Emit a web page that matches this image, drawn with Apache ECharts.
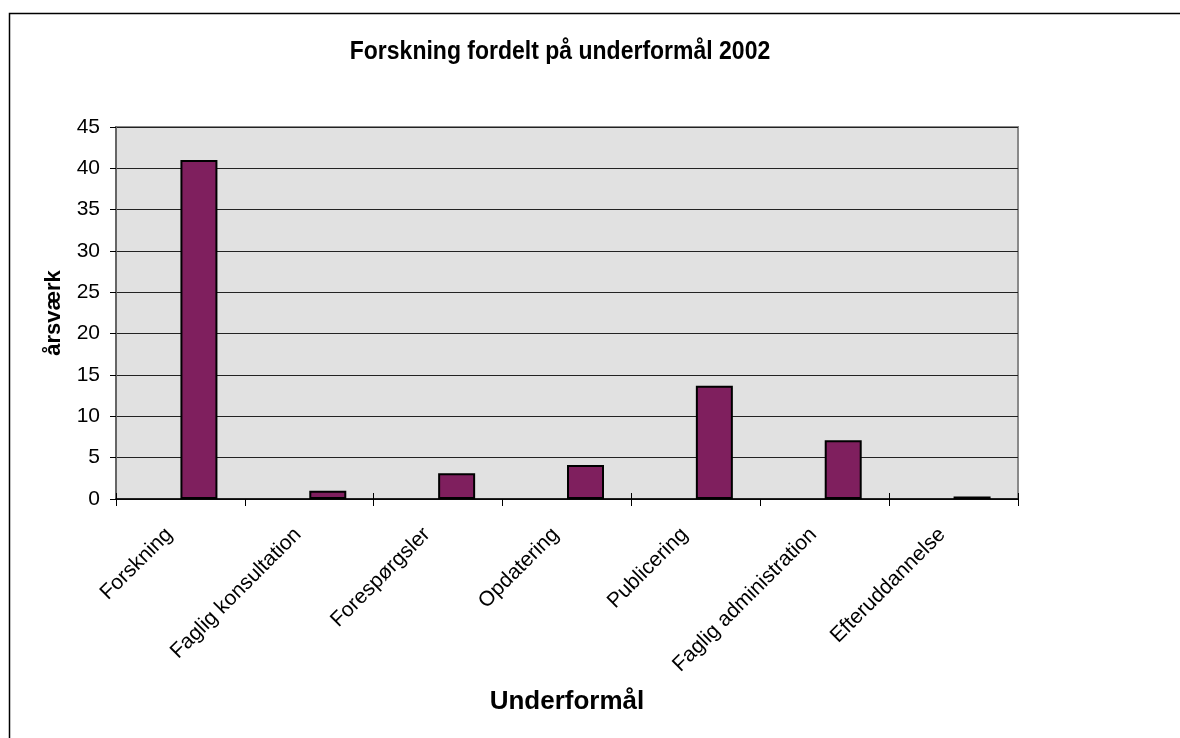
<!DOCTYPE html>
<html>
<head>
<meta charset="utf-8">
<script src="https://cdn.jsdelivr.net/npm/echarts@6/dist/echarts.min.js"></script>
<style>
html, body { margin: 0; padding: 0; background: #fff; }
#chart { width: 1180px; height: 738px; }
</style>
</head>
<body>
<div id="chart"></div>
<script>
// data
const categories = ['Forskning', 'Faglig konsultation', 'Forespørgsler', 'Opdatering', 'Publicering', 'Faglig administration', 'Efteruddannelse'];
const aarsvaerk = [41, 1, 3.1, 4.1, 13.7, 7.1, 0.3];
// tom serie (Excel lader plads til en serie før søjlen)
const tomSerie = ['-', '-', '-', '-', '-', '-', '-'];
const yMin = 0, yMax = 45, yStep = 5;

const font = "'Liberation Sans', Arial, sans-serif";
const chart = echarts.init(document.getElementById('chart'));

const option = {
	animation: false,
	textStyle: { fontFamily: font },
	graphic: [
		{ // ramme
			type: 'rect',
			shape: { x: 9.5, y: 13.5, width: 1400, height: 1000 },
			style: { fill: 'none', stroke: '#000', lineWidth: 1.5 },
			silent: true
		},
		{
			type: 'text',
			x: 560, y: 52,
			scaleY: 1.12,
			style: {
				text: 'Forskning fordelt på underformål 2002',
				font: 'bold 23px ' + font,
				fill: '#000',
				align: 'center',
				verticalAlign: 'middle'
			}
		}
	],
	grid: {
		left: 116, top: 127, right: 162, bottom: 239,
		show: true,
		backgroundColor: '#e1e1e1',
		borderColor: '#8a8a8a',
		borderWidth: 2
	},
	xAxis: [
		{
			type: 'category',
			data: categories,
			name: 'Underformål',
			nameLocation: 'middle',
			nameGap: 190,
			nameTextStyle: { fontSize: 26, fontWeight: 'bold', color: '#000' },
			axisLine: { lineStyle: { color: '#000', width: 1.5 } },
			axisTick: { show: true, length: 7, lineStyle: { color: '#000' } }, // udad
			// padding til højre flytter teksten ned mod venstre langs skråningen
			axisLabel: { interval: 0, rotate: 45, margin: 21, padding: [0, 16, 0, 0], fontSize: 21, color: '#000' }
		},
		{
			type: 'category',
			data: categories,
			position: 'bottom',
			axisLine: { show: false },
			axisTick: { show: true, inside: true, length: 6, lineStyle: { color: '#000' } }, // indad
			axisLabel: { show: false }
		}
	],
	yAxis: {
		type: 'value',
		min: yMin, max: yMax, interval: yStep,
		name: 'årsværk',
		nameLocation: 'middle',
		nameGap: 51,
		nameTextStyle: { fontSize: 22, fontWeight: 'bold', color: '#000' },
		axisLine: { show: true, lineStyle: { color: '#666', width: 2 } },
		axisTick: { show: true, length: 6, lineStyle: { color: '#000' } },
		axisLabel: { fontSize: 21, color: '#000', margin: 16 },
		splitLine: { lineStyle: { color: '#222', width: 1 } }
	},
	series: [
		{
			type: 'bar',
			data: tomSerie,
			barWidth: 37,
			barGap: '0%'
		},
		{
			type: 'bar',
			data: aarsvaerk,
			barWidth: 37,
			barGap: '0%',
			itemStyle: { color: '#7f1f5e', borderColor: '#000', borderWidth: 2 }
		}
	]
};
chart.setOption(option);
</script>
</body>
</html>
